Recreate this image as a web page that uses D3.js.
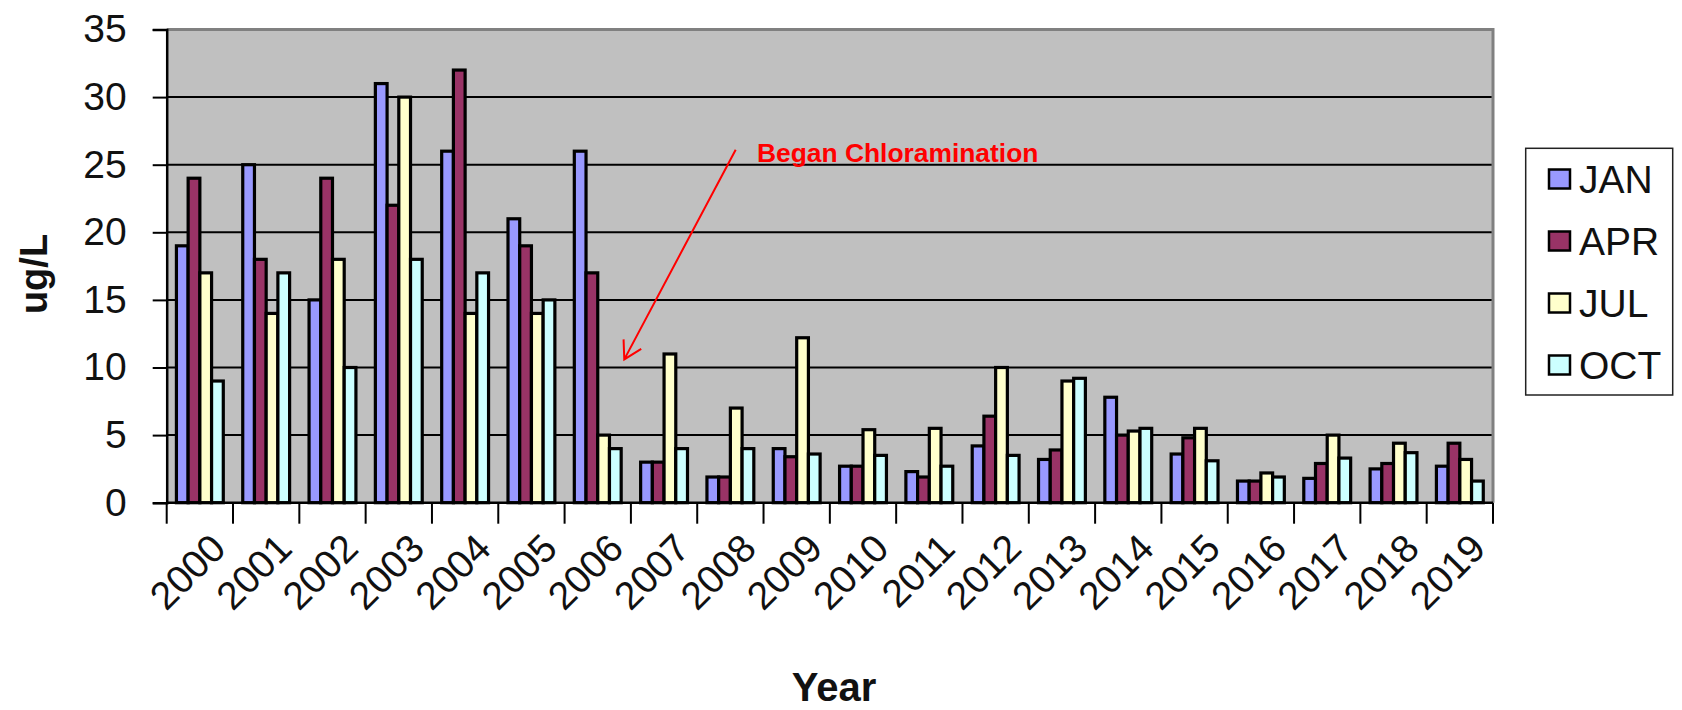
<!DOCTYPE html>
<html>
<head>
<meta charset="utf-8">
<script src="https://cdn.jsdelivr.net/npm/d3@7"></script>
<style>
  html, body { margin: 0; padding: 0; background: #ffffff; }
  svg { display: block; }
  text { font-family: "Liberation Sans", Arial, sans-serif; }
</style>
</head>
<body>
<svg id="chart" width="1682" height="710"></svg>
<script>
// Quarterly sampling results, ug/L
const years = ["2000","2001","2002","2003","2004","2005","2006","2007","2008","2009",
               "2010","2011","2012","2013","2014","2015","2016","2017","2018","2019"];
const months = ["JAN", "APR", "JUL", "OCT"];
const janValues = [19, 25, 15, 31, 26, 21, 26, 3, 1.9, 4, 2.7, 2.3, 4.2, 3.2, 7.8, 3.6, 1.6, 1.8, 2.5, 2.7];
const aprValues = [24, 18, 24, 22, 32, 19, 17, 3, 1.9, 3.4, 2.7, 1.9, 6.4, 3.9, 5, 4.8, 1.6, 2.9, 2.9, 4.4];
const julValues = [17, 14, 18, 30, 14, 14, 5, 11, 7, 12.2, 5.4, 5.5, 10, 9, 5.3, 5.5, 2.2, 5, 4.4, 3.2];
const octValues = [9, 17, 10, 18, 17, 15, 4, 4, 4, 3.6, 3.5, 2.7, 3.5, 9.2, 5.5, 3.1, 1.9, 3.3, 3.7, 1.6];
const yTicks = [0, 5, 10, 15, 20, 25, 30, 35];
const monthColors = ["#9999FF", "#993366", "#FFFFCC", "#CCFFFF"];

const seriesByMonth = [janValues, aprValues, julValues, octValues];
const rows = years.map((yr, i) => ({
  year: yr,
  values: months.map((m, j) => ({ month: m, value: seriesByMonth[j][i] }))
}));

const svg = d3.select("#chart");
const plot = { left: 166.7, right: 1493, top: 29.5, bottom: 502.7 };

const x0 = d3.scaleBand().domain(years).range([plot.left, plot.right]).paddingInner(0).paddingOuter(0);
const x1 = d3.scaleBand().domain(months).range([0, x0.bandwidth()]).paddingInner(0).paddingOuter(0.83);
const y = d3.scaleLinear().domain([0, 35]).range([plot.bottom, plot.top]);
const color = d3.scaleOrdinal().domain(months).range(monthColors);

// Plot background
svg.append("rect")
  .attr("x", plot.left).attr("y", plot.top)
  .attr("width", plot.right - plot.left).attr("height", plot.bottom - plot.top)
  .attr("fill", "#C0C0C0");

// Horizontal gridlines
svg.append("g")
  .selectAll("line")
  .data(yTicks.filter(t => t > 0 && t < 35))
  .join("line")
  .attr("x1", plot.left).attr("x2", plot.right)
  .attr("y1", d => y(d)).attr("y2", d => y(d))
  .attr("stroke", "#000").attr("stroke-width", 2);

// Plot frame: top and right edges in grey
svg.append("path")
  .attr("d", `M${plot.left},${plot.top}H${plot.right}V${plot.bottom}`)
  .attr("fill", "none").attr("stroke", "#808080").attr("stroke-width", 3);

// Bars
svg.append("g")
  .selectAll("g")
  .data(rows)
  .join("g")
  .attr("transform", d => `translate(${x0(d.year)},0)`)
  .selectAll("rect")
  .data(d => d.values)
  .join("rect")
  .attr("x", d => x1(d.month))
  .attr("width", x1.bandwidth())
  .attr("y", d => y(d.value))
  .attr("height", d => y(0) - y(d.value))
  .attr("fill", d => color(d.month))
  .attr("stroke", "#000")
  .attr("stroke-width", 3.2);

// Y axis
const yAxis = d3.axisLeft(y).tickValues(yTicks).tickSize(14).tickPadding(26);
const gy = svg.append("g").attr("transform", `translate(${plot.left},0)`).call(yAxis);
gy.select(".domain").attr("stroke", "#000").attr("stroke-width", 2.5);
gy.selectAll(".tick line").attr("stroke", "#000").attr("stroke-width", 2);
gy.selectAll(".tick text")
  .attr("font-size", 39).attr("fill", "#111")
  .attr("font-family", "'Liberation Sans', Arial, sans-serif");

// X axis with ticks on category boundaries
const gx = svg.append("g").attr("transform", `translate(0,${plot.bottom})`);
gx.append("line")
  .attr("x1", plot.left).attr("x2", plot.right)
  .attr("stroke", "#000").attr("stroke-width", 2.5);
const boundaries = years.map(yr => x0(yr)).concat([x0(years[years.length - 1]) + x0.bandwidth()]);
gx.selectAll("line.tick")
  .data(boundaries)
  .join("line")
  .attr("class", "tick")
  .attr("x1", d => d).attr("x2", d => d)
  .attr("y1", 0).attr("y2", 21)
  .attr("stroke", "#000").attr("stroke-width", 2);
gx.selectAll("text")
  .data(years)
  .join("text")
  .attr("transform", d => `translate(${x0(d) + x0.bandwidth() / 2 + 8},${28}) rotate(-45)`)
  .attr("text-anchor", "end")
  .attr("dy", "0.72em")
  .attr("font-size", 39)
  .attr("fill", "#111")
  .text(d => d);

// Axis titles
svg.append("text")
  .attr("transform", `translate(47,274) rotate(-90)`)
  .attr("text-anchor", "middle")
  .attr("font-size", 38).attr("font-weight", "bold").attr("fill", "#111")
  .text("ug/L");

svg.append("text")
  .attr("x", 834).attr("y", 701)
  .attr("text-anchor", "middle")
  .attr("font-size", 40).attr("font-weight", "bold").attr("fill", "#111")
  .text("Year");

// Annotation: start of chloramination
const bw = x0.bandwidth();
const tip = [x0("2006") + bw * 0.9, y(10.6)];
const tail = [x0("2008") + bw * 0.58, y(26.1)];
const ang = Math.atan2(tail[1] - tip[1], tail[0] - tip[0]);
const headLen = 20, headAng = Math.PI / 6;
const h1 = [tip[0] + headLen * Math.cos(ang + headAng), tip[1] + headLen * Math.sin(ang + headAng)];
const h2 = [tip[0] + headLen * Math.cos(ang - headAng), tip[1] + headLen * Math.sin(ang - headAng)];
svg.append("path")
  .attr("d", `M${tail}L${tip}M${h1}L${tip}L${h2}`)
  .attr("fill", "none").attr("stroke", "#FF0000").attr("stroke-width", 2);
svg.append("text")
  .attr("x", x0("2008") + bw * 0.9).attr("y", y(25.2))
  .attr("font-size", 26.4).attr("font-weight", "bold").attr("fill", "#FF0000")
  .text("Began Chloramination");

// Legend
const legend = svg.append("g");
legend.append("rect")
  .attr("x", 1525.7).attr("y", 148.3).attr("width", 147).attr("height", 246.7)
  .attr("fill", "#fff").attr("stroke", "#222").attr("stroke-width", 1.5);
const legendRow = d3.scalePoint().domain(months).range([179, 365]);
const items = legend.selectAll("g.item").data(months).join("g").attr("class", "item")
  .attr("transform", d => `translate(1549,${legendRow(d)})`);
items.append("rect")
  .attr("x", 0).attr("y", -9.5).attr("width", 21).attr("height", 19)
  .attr("fill", d => color(d)).attr("stroke", "#000").attr("stroke-width", 2.5);
items.append("text")
  .attr("x", 30).attr("y", 0).attr("dy", "0.36em")
  .attr("font-size", 39).attr("fill", "#111")
  .text(d => d);
</script>
</body>
</html>
